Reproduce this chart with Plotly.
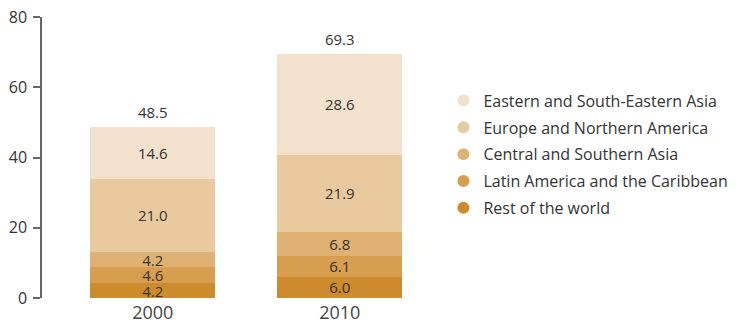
import plotly.graph_objects as go

years = ["2000", "2010"]
regions = ["Rest of the world", "Latin America and the Caribbean", "Central and Southern Asia",
           "Europe and Northern America", "Eastern and South-Eastern Asia"]
rest = [4.2, 6.0]
latam = [4.6, 6.1]
csasia = [4.2, 6.8]
europe = [21.0, 21.9]
esasia = [14.6, 28.6]
totals = [48.5, 69.3]
colors = ["#CD8B2B", "#D69E4E", "#DFB274", "#E9CA9F", "#F2E1CC"]
series = [rest, latam, csasia, europe, esasia]

FONT = "Open Sans"
fig = go.Figure()
for name, vals, col in zip(regions, series, colors):
    fig.add_trace(go.Bar(
        x=years, y=vals, name=name, marker=dict(color=col, line=dict(width=0)),
        text=[f"{v:.1f}" for v in vals], textposition="inside", insidetextanchor="middle",
        textfont=dict(family=FONT, size=15, color="#333333"), showlegend=False,
        hoverinfo="skip"))

fig.add_trace(go.Scatter(
    x=years, y=totals, mode="markers+text", text=[f"{t:.1f}" for t in totals],
    marker=dict(size=8, opacity=0),
    textposition="top center", textfont=dict(family=FONT, size=15, color="#333333"),
    showlegend=False, hoverinfo="skip", cliponaxis=False))

for name, col in reversed(list(zip(regions, colors))):
    fig.add_trace(go.Scatter(
        x=[None], y=[None], mode="markers", name=name, legendgroup=name,
        marker=dict(symbol="circle", size=15, color=col)))

fig.update_layout(
    width=746, height=323,
    margin=dict(l=42, r=316, t=17, b=25),
    barmode="stack", bargap=0.33,
    plot_bgcolor="white", paper_bgcolor="white",
    font=dict(family=FONT, color="#333333"),
    uniformtext=dict(mode="show", minsize=15),
    legend=dict(x=1.81, y=0.512, xanchor="right", yanchor="middle",
                traceorder="grouped",
                font=dict(family=FONT, size=16, color="#333333"),
                itemsizing="constant", tracegroupgap=3),
)
fig.update_xaxes(type="category", range=[-0.592, 1.45], showline=False, ticks="",
                 automargin=False, ticklabelstandoff=2,
                 tickfont=dict(family=FONT, size=18, color="#444444"), showgrid=False)
fig.update_yaxes(range=[0, 80], tickvals=[0, 20, 40, 60, 80], showline=True, linecolor="#666666",
                 linewidth=1.5, ticks="outside", ticklen=7, tickcolor="#666666", tickwidth=1.5,
                 showgrid=False, zeroline=False, automargin=False, ticklabelstandoff=3,
                 ticklabeloverflow="allow",
                 tickfont=dict(family=FONT, size=16, color="#333333"))
fig.write_html("out.html", config={"displayModeBar": False},
               post_script="document.body.style.margin='0';")
